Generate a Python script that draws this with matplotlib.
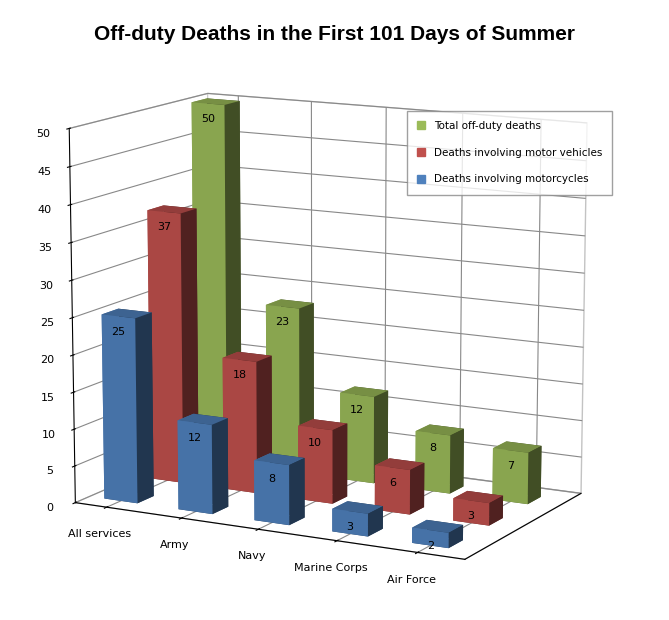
import matplotlib
matplotlib.use("Agg")
import matplotlib.pyplot as plt
import numpy as np
from matplotlib.patches import Patch

categories = ["All services", "Army", "Navy", "Marine Corps", "Air Force"]
series_names = ["Deaths involving motorcycles", "Deaths involving motor vehicles", "Total off-duty deaths"]
motorcycles = [25, 12, 8, 3, 2]
motor_vehicles = [37, 18, 10, 6, 3]
total = [50, 23, 12, 8, 7]
colors = ["#4F81BD", "#C0504D", "#9BBB59"]

fig = plt.figure(figsize=(6.69, 6.20), dpi=100)
ax = fig.add_axes([-0.02, -0.02, 1.0, 1.0], projection="3d")
data = [motorcycles, motor_vehicles, total]
dx, dy = 0.45, 0.35
for j, vals in enumerate(data):
    for i, v in enumerate(vals):
        ax.bar3d(i, j, 0, dx, dy, v, color=colors[j], shade=True, edgecolor="none")
        ax.text(i + dx / 2, j, v - 2.5, str(v), fontsize=8, ha="center", zorder=100)

ax.set_xticks(np.arange(len(categories)) + dx / 2)
ax.set_xticklabels(categories, fontsize=8)
ax.set_yticks([])
ax.set_zticks(range(0, 51, 5))
ax.tick_params(axis="z", labelsize=8)
ax.zaxis.set_ticks_position("lower")
ax.set_zlim(0, 50)
ax.set_xlim(-0.2, 4.8)
ax.set_ylim(-0.3, 2.7)
ax.view_init(elev=12, azim=-62)
ax.set_box_aspect((1.6, 1.0, 1.4))
for a in (ax.xaxis, ax.yaxis, ax.zaxis):
    a.pane.set_facecolor("white")
    a.pane.set_edgecolor("#888888")
    a._axinfo["grid"]["color"] = "#888888"
    a._axinfo["grid"]["linewidth"] = 0.8

handles = [Patch(color=colors[k]) for k in (2, 1, 0)]
labels = [series_names[k] for k in (2, 1, 0)]
fig.legend(handles, labels, loc="upper left", bbox_to_anchor=(0.6, 0.83), fontsize=7.5,
           frameon=True, fancybox=False, edgecolor="#888888", handlelength=0.8,
           handleheight=0.8, labelspacing=1.6, borderpad=1.0)
fig.text(0.5, 0.935, "Off-duty Deaths in the First 101 Days of Summer", ha="center",
         fontsize=15, fontweight="bold", family="Liberation Sans")
fig.savefig("out.png", dpi=100, facecolor="white")
